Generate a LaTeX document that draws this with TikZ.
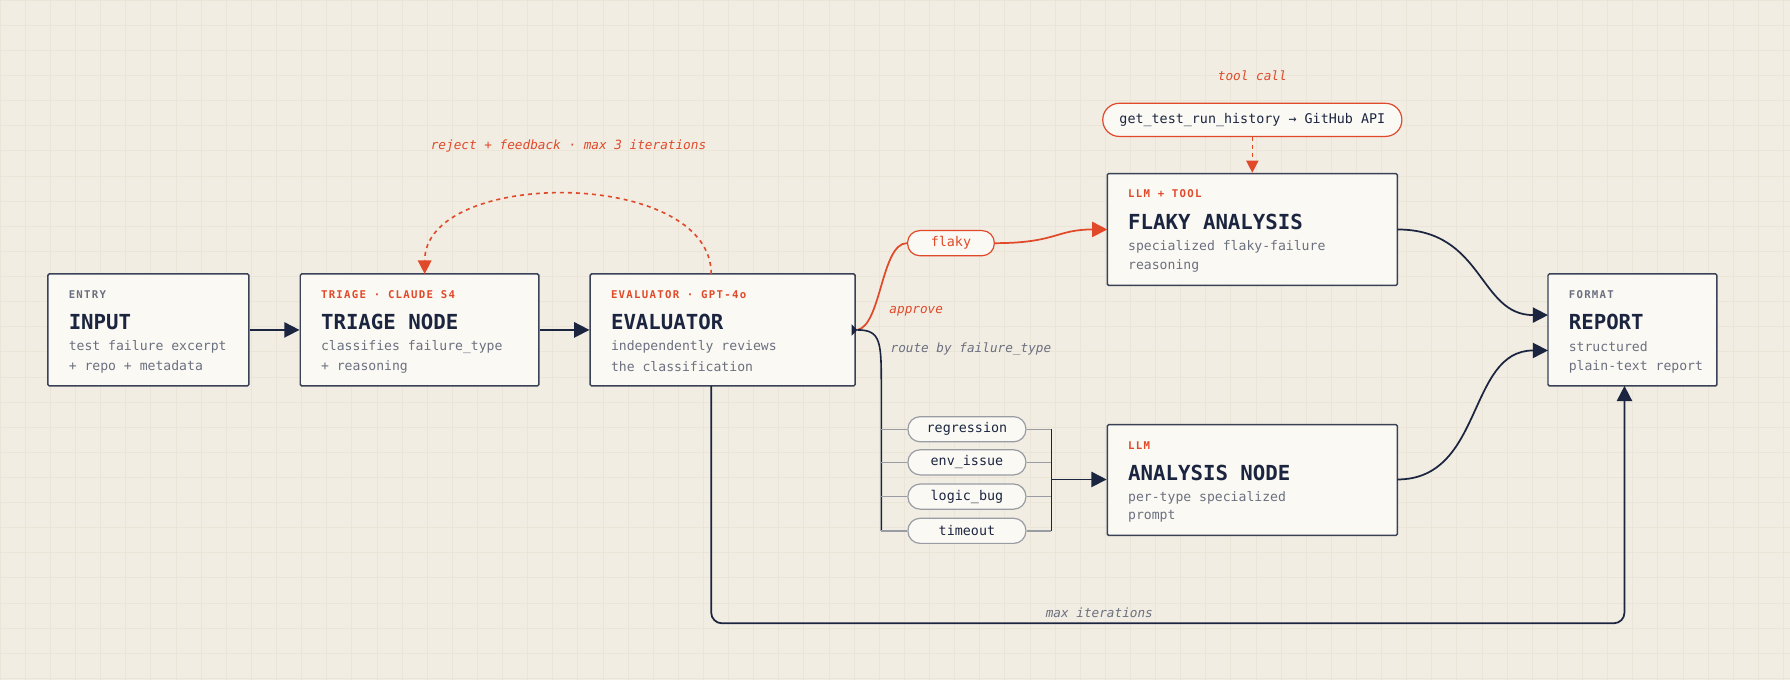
\documentclass[tikz,border=0pt]{standalone}
\usepackage{fontspec}
\setmonofont{DejaVu Sans Mono}
\usetikzlibrary{arrows.meta,positioning}
\definecolor{bgc}{HTML}{F2EDE2}
\definecolor{gridc}{HTML}{EBE5D8}
\definecolor{boxc}{HTML}{FBF9F3}
\definecolor{ink}{HTML}{1B2540}
\definecolor{edgec}{HTML}{3A4257}
\definecolor{redc}{HTML}{E04A2B}
\definecolor{greyc}{HTML}{6B7080}
\definecolor{pillc}{HTML}{9A9CA4}
\tikzset{
  box/.style={draw=edgec,fill=boxc,line width=1.1pt,rounded corners=1pt,inner sep=0pt},
  tag/.style={anchor=west,inner sep=0pt,font=\ttfamily\bfseries\fontsize{8}{9}\selectfont},
  ttl/.style={anchor=west,inner sep=0pt,text=ink,font=\ttfamily\bfseries\fontsize{15.5}{18}\selectfont},
  desc/.style={anchor=west,inner sep=0pt,text=greyc,font=\ttfamily\fontsize{9.8}{12}\selectfont},
  pill/.style={draw=pillc,fill=boxc,rounded corners=3.2mm,minimum width=31mm,minimum height=6.6mm,text=ink,font=\ttfamily\fontsize{10}{12}\selectfont,line width=0.9pt},
  lbl/.style={font=\ttfamily\itshape\fontsize{9.5}{11}\selectfont},
  link/.style={ink,line width=1.3pt,-{Triangle[length=4mm,width=4mm]}},
  rlink/.style={redc,line width=1.3pt,-{Triangle[length=4mm,width=4mm]}},
}
% stage box: name, x1, y1, x2, y2, tag colour, tag, title, line 1
\newcommand{\stage}[9]{%
  \node[box,minimum width={(#4-#2)*0.3mm},minimum height={(#5-#3)*0.3mm}] (#1) at ({(#2+#4)/2},{(#3+#5)/2}) {};
  \node[tag,text=#6] at (#2+18,#3+18) {\addfontfeature{LetterSpace=12}#7};
  \node[ttl] at (#2+18,#3+42) {#8};
  \node[desc] at (#2+18,#3+64) {#9};
}
\begin{document}
\begin{tikzpicture}[x=0.3mm,y=-0.3mm]
\fill[bgc] (0,0) rectangle (1568,596);
\useasboundingbox (0,0) rectangle (1568,596);
\foreach \gx in {0,22,...,1568} \draw[gridc,line width=0.3pt] (\gx,0) -- (\gx,596);
\foreach \gy in {0,22,...,596} \draw[gridc,line width=0.3pt] (0,\gy) -- (1568,\gy);

% stages
\stage{input}{42}{240}{218}{338}{greyc}{ENTRY}{INPUT}{test failure excerpt}
\node[desc] at (60,321) {+ repo + metadata};
\stage{triage}{263}{240}{472}{338}{redc}{TRIAGE · CLAUDE S4}{TRIAGE NODE}{classifies failure\_type}
\node[desc] at (281,321) {+ reasoning};
\stage{evaluator}{517}{240}{749}{338}{redc}{EVALUATOR · GPT-4o}{EVALUATOR}{independently reviews}
\node[desc] at (535,321) {the classification};
\stage{flakybox}{970}{152}{1224}{250}{redc}{LLM + TOOL}{FLAKY ANALYSIS}{specialized flaky-failure}
\node[desc] at (988,233) {reasoning};
\stage{analysis}{970}{372}{1224}{469}{redc}{LLM}{ANALYSIS NODE}{per-type specialized}
\node[desc] at (988,452) {prompt};
\stage{report}{1356}{240}{1504}{338}{greyc}{FORMAT}{REPORT}{structured}
\node[desc] at (1374,321) {plain-text report};

% tool call
\node[lbl,text=redc] (toollbl) at (1097,66) {tool call};
\node[pill,draw=redc,rounded corners=4.3mm,minimum width=78.6mm,minimum height=8.7mm] (tool) at (1097,105) {get\_test\_run\_history → GitHub API};
\draw[redc,line width=1.1pt,dashed,-{Triangle[length=3.2mm,width=3.2mm]}] (tool.south) -- (flakybox.north -| tool.south);

% pills
\node[pill,draw=redc,text=redc,minimum width=22.8mm] (flaky) at (833,213) {flaky};
\node[pill] (regression) at (847,376) {regression};
\node[pill] (envissue) at (847,405) {env\_issue};
\node[pill] (logicbug) at (847,435) {logic\_bug};
\node[pill] (timeout) at (847,465) {timeout};

% main flow
\draw[link] (input.east) -- (triage.west);
\draw[link] (triage.east) -- (evaluator.west);
\coordinate (evport) at (751,289);
\draw[redc,line width=1.2pt,dashed,-{Triangle[length=3.6mm,width=3.6mm]}] (623,240) .. controls (623,147) and (372,147) .. (372,240);
\node[lbl,text=redc] at (498,128) {reject + feedback · max 3 iterations};

% approve branch
\draw[redc,line width=1.3pt] (evport) .. controls (772,285) and (772,213) .. (flaky.west);
\draw[rlink] (flaky.east) .. controls (925,213) and (925,201) .. (970,201);
\node[lbl,text=redc,anchor=west] at (775,273) {approve};

% routing branch
\draw[ink,line width=1.2pt] (evport) .. controls (772,289) and (772,300) .. (772,340) -- (772,465);
\node[lbl,text=greyc,anchor=west] at (776,306) {route by failure\_type};
\foreach \p in {regression,envissue,logicbug,timeout} {
  \draw[pillc,line width=1.1pt] (772,0 |- \p.west) -- (\p.west);
  \draw[pillc,line width=1.1pt] (\p.east) -- (921,0 |- \p.east);
}
\draw[ink,line width=1.2pt] (921,376) -- (921,465);
\draw[link] (921,420) -- (analysis.west |- 0,420);
\fill[ink] (evport) -- ++(-5,-5) -- ++(0,10) -- cycle;

% to report
\draw[link] (1224,201) .. controls (1300,201) and (1295,276) .. (1356,276);
\draw[link] (1224,420) .. controls (1300,420) and (1285,307) .. (1356,307);
\draw[link,rounded corners=8pt] (623,338) -- (623,546) -- (1423,546) -- (1423,338);
\node[lbl,text=greyc] at (963,537) {max iterations};
\end{tikzpicture}
\end{document}
